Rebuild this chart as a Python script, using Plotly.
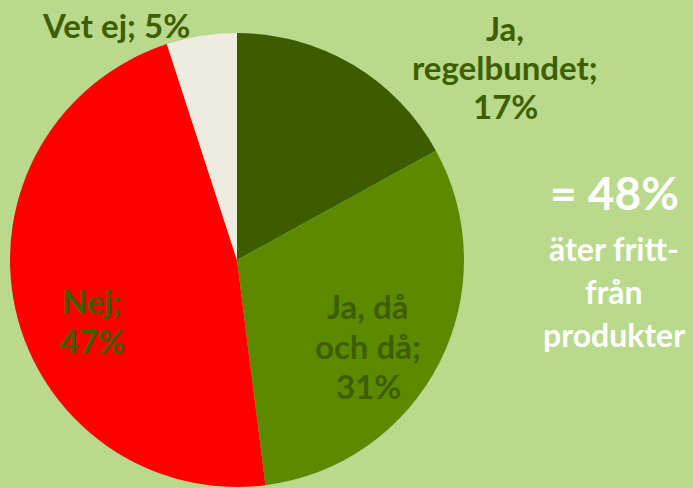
import plotly.graph_objects as go

categories = ["Ja, regelbundet", "Ja, då och då", "Nej", "Vet ej"]
values = [17, 31, 47, 5]
colors = ["#3d5c00", "#5b8a00", "#ff0000", "#eeebe0"]
summary_value = 48
summary_text = ["äter fritt-", "från", "produkter"]

BG = "#b9da8c"
TXT = "#3f5e00"
FONT = "Lato"
W, H = 693, 488

fig = go.Figure(go.Pie(
    labels=categories, values=values, sort=False, direction="clockwise", rotation=0,
    marker=dict(colors=colors, line=dict(width=0)),
    textinfo="none", hoverinfo="label+percent",
    domain=dict(x=[10/W, 464/W], y=[1/H, 455/H]),
    showlegend=False,
))


def add_lines(lines, cx, ys, size, color):
    for t, y in zip(lines, ys):
        fig.add_annotation(x=cx/W, y=1 - y/H, xref="paper", yref="paper", text="<b>%s</b>" % t,
                           showarrow=False, font=dict(family=FONT, size=size, color=color),
                           xanchor="center", yanchor="middle")


label_lines = [
    ["Ja,", "regelbundet;", "%d%%" % values[0]],
    ["Ja, då", "och då;", "%d%%" % values[1]],
    ["Nej;", "%d%%" % values[2]],
    ["Vet ej; %d%%" % values[3]],
]
label_cx = [505, 368, 92, 116]
label_ys = [[28, 67, 106], [306, 346, 386], [301, 341], [25]]
for lines, cx, ys in zip(label_lines, label_cx, label_ys):
    add_lines(lines, cx, ys, 33, TXT)

add_lines(["= %d%%" % summary_value], 614, [193], 46, "white")
add_lines(summary_text, 614, [248, 291, 334], 32, "white")

fig.update_layout(width=W, height=H, margin=dict(l=0, r=0, t=0, b=0),
                  paper_bgcolor=BG, plot_bgcolor=BG)
fig.write_html("out.html", config={"displayModeBar": False},
               post_script="document.body.style.margin='0';document.body.style.background='%s';" % BG)
